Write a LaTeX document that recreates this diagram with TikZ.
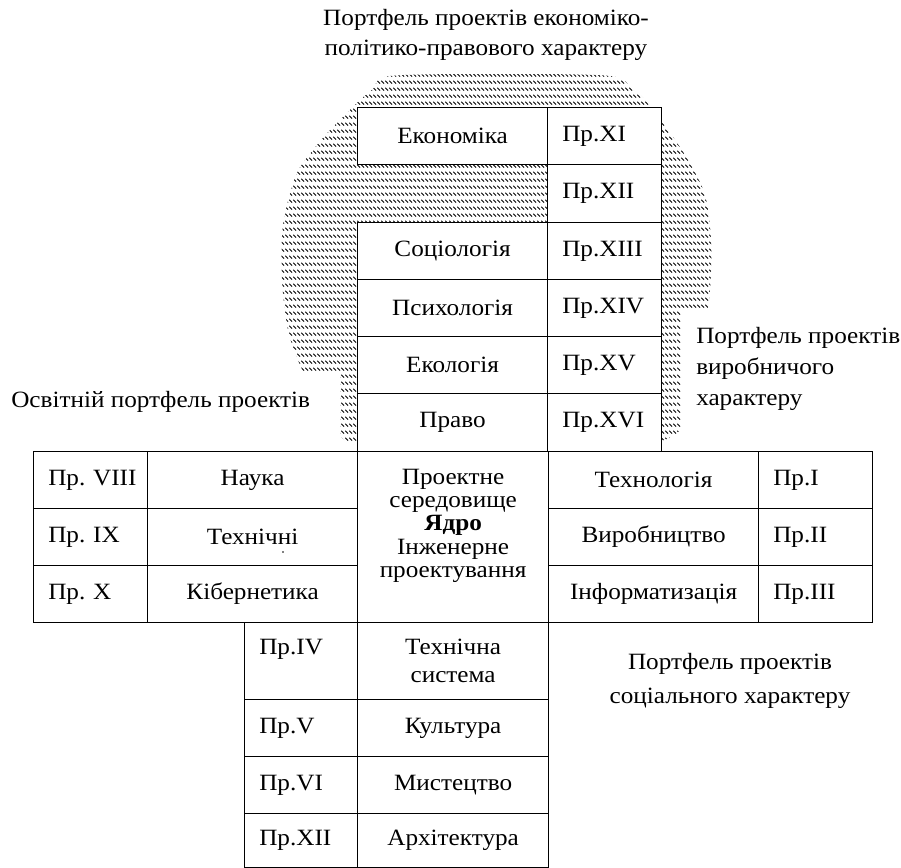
\documentclass[tikz,border=0pt]{standalone}
\usepackage{fontspec}
\setmainfont{Liberation Serif}[FakeStretch=1.08]
\usetikzlibrary{patterns.meta}
\tikzdeclarepattern{name=dashdiag, type=uncolored,
  bottom left={(0pt,0pt)}, top right={(3.3pt,5.6pt)}, tile size={(3.3pt,5.6pt)},
  code={\draw[line width=0.75pt] (0.3pt,5.0pt) -- (2.6pt,2.7pt);}}
\newcommand\mysize{\fontsize{17.5pt}{21pt}\selectfont}
\begin{document}
\begin{tikzpicture}[x=0.75pt,y=-0.75pt,
  cell/.style={draw, line width=0.9pt, fill=white, inner sep=0pt, anchor=north west, font=\mysize, align=center},
  prbox/.style={cell, align=left, inner xsep=11pt, text width=63.5pt, minimum width=85.5pt},
  prboxb/.style={cell, align=left, inner xsep=11pt, text width=62.75pt, minimum width=84.75pt},
  txt/.style={inner sep=0pt, font=\mysize}]
\useasboundingbox (0,0) rectangle (901,868);
% hatched portfolio area
\path[pattern=dashdiag, pattern color=black] plot[smooth cycle] coordinates {
  (390,76) (500,74) (610,76) (632,89) (645,100) (668,130) (688,160) (705,195)
  (711,240) (710,290) (703,340) (690,390) (675,435) (600,452) (500,456) (400,452)
  (345,440) (318,400) (300,365) (288,330) (282,280) (283,225) (296,175) (313,150)
  (330,130) (347,113) (360,100) (373,89)};
\fill[white] (0,374) rectangle (340,470);
\fill[white] (681,311) rectangle (800,470);
% top column
\node[cell, minimum width=142.5pt, minimum height=42.75pt] (eco) at (357,107) {Економіка};
\node[prbox, minimum height=42.75pt] (p11) at (547,107) {Пр.XI};
\node[prbox, minimum height=43.5pt] (p12a) at (547,164) {Пр.XII};
\node[cell, minimum width=142.5pt, minimum height=42.75pt] (soc) at (357,222) {Соціологія};
\node[prbox, minimum height=42.75pt] (p13) at (547,222) {Пр.XIII};
\node[cell, minimum width=142.5pt, minimum height=42.75pt] (psy) at (357,279) {Психологія};
\node[prbox, minimum height=42.75pt] (p14) at (547,279) {Пр.XIV};
\node[cell, minimum width=142.5pt, minimum height=42.75pt] (ecol) at (357,336) {Екологія};
\node[prbox, minimum height=42.75pt] (p15) at (547,336) {Пр.XV};
\node[cell, minimum width=142.5pt, minimum height=43.5pt] (law) at (357,393) {Право};
\node[prbox, minimum height=43.5pt] (p16) at (547,393) {Пр.XVI};
% left table
\node[prbox, minimum height=42.75pt] (p8) at (33,451) {\mbox{Пр.\ VIII}};
\node[cell, minimum width=157.5pt, minimum height=42.75pt] (sci) at (147,451) {Наука};
\node[prbox, minimum height=42.75pt] (p9) at (33,508) {\mbox{Пр.\ IX}};
\node[cell, minimum width=157.5pt, minimum height=42.75pt] (tech) at (147,508) {Технічні};
\node[prbox, minimum height=42.75pt] (p10) at (33,565) {\mbox{Пр.\ X}};
\node[cell, minimum width=157.5pt, minimum height=42.75pt] (cyb) at (147,565) {Кібернетика};
\fill (283,552) circle (0.7pt);
% core
\node[cell, minimum width=143.25pt, minimum height=128.25pt] (core) at (357,451) {};
\node[txt, align=center, font=\fontsize{17.5pt}{17.5pt}\selectfont] (coretxt) at ([yshift=8.5pt]core.center)
  {Проектне\\середовище\\\textbf{Ядро}\\Інженерне\\проектування};
% right table
\node[cell, minimum width=157.5pt, minimum height=42.75pt] (tgy) at (548,451) {Технологія};
\node[prbox, minimum height=42.75pt] (p1) at (758,451) {Пр.I};
\node[cell, minimum width=157.5pt, minimum height=42.75pt] (prod) at (548,508) {Виробництво};
\node[prbox, minimum height=42.75pt] (p2) at (758,508) {Пр.II};
\node[cell, minimum width=157.5pt, minimum height=42.75pt] (inf) at (548,565) {Інформатизація};
\node[prbox, minimum height=42.75pt] (p3) at (758,565) {Пр.III};
% bottom table
\node[prboxb, minimum height=57.75pt] (p4) at (244,622) {Пр.IV\\\mbox{}};
\node[cell, minimum width=143.25pt, minimum height=57.75pt] (tsys) at (357,622) {Технічна\\система};
\node[prboxb, minimum height=42.75pt] (p5) at (244,699) {Пр.V};
\node[cell, minimum width=143.25pt, minimum height=42.75pt] (cult) at (357,699) {Культура};
\node[prboxb, minimum height=42.75pt] (p6) at (244,756) {Пр.VI};
\node[cell, minimum width=143.25pt, minimum height=42.75pt] (art) at (357,756) {Мистецтво};
\node[prboxb, minimum height=40.5pt] (p12b) at (244,813) {Пр.XII};
\node[cell, minimum width=143.25pt, minimum height=40.5pt] (arch) at (357,813) {Архітектура};
% free labels
\node[txt, align=center, font=\fontsize{17.5pt}{22.5pt}\selectfont] (ttl) at (486,35)
  {Портфель проектів економіко-\\політико-правового характеру};
\node[txt, anchor=west] (edu) at (11,402) {Освітній портфель проектів};
\node[txt, align=left, anchor=west, font=\fontsize{17.5pt}{23.25pt}\selectfont] (prodp) at (696,369)
  {Портфель проектів\\виробничого\\характеру};
\node[txt, align=center, font=\fontsize{17.5pt}{26pt}\selectfont] (socp) at (730,681)
  {Портфель проектів\\соціального характеру};
\end{tikzpicture}
\end{document}
